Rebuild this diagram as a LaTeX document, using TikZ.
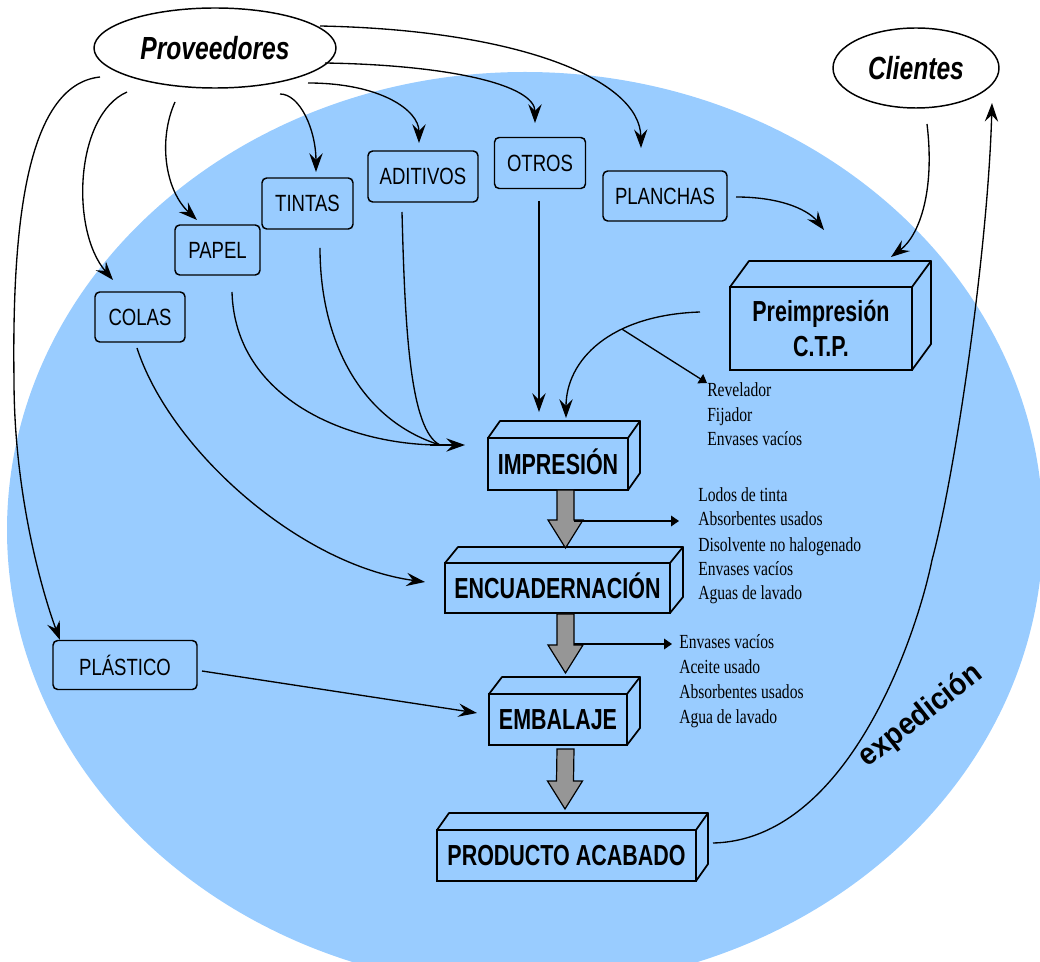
\documentclass[tikz,border=0pt]{standalone}
\usepackage{fontspec}
\setmainfont{Liberation Sans}
\newfontfamily\labfont[FakeStretch=0.79]{Liberation Sans}
\newfontfamily\cubefont[FakeStretch=0.74]{Liberation Sans}
\newfontfamily\ovfont[FakeStretch=0.77]{Liberation Sans}
\newfontfamily\wastefont[FakeStretch=0.78]{Liberation Serif}
\newfontfamily\expfont[FakeStretch=0.92]{Liberation Sans}
\usetikzlibrary{shapes.geometric,arrows.meta,calc}
\definecolor{bgblue}{HTML}{99CCFF}
\definecolor{arrgray}{HTML}{969696}
\tikzset{
 ov/.style={ellipse, draw, fill=white, line width=1.1pt, inner sep=0pt, outer sep=0pt, font=\ovfont\bfseries\itshape\fontsize{24}{28}\selectfont},
 rbox/.style={rectangle, rounded corners=3.5pt, draw, line width=1.1pt, inner sep=0pt, outer sep=0pt, font=\labfont\fontsize{17.6}{20}\selectfont},
 cube/.style={rectangle, draw, line width=1.3pt, inner sep=0pt, outer sep=0pt, align=center, font=\cubefont\bfseries\fontsize{21.75}{26.25}\selectfont},
 cubeone/.style={cube, text height=15.2pt, text depth=0pt},
 cubeline/.style={line width=1.3pt, line join=round},
 waste/.style={anchor=base west, inner sep=0pt, font=\wastefont\fontsize{15}{18}\selectfont},
 arr/.style={line width=1pt, -{Stealth[length=14pt,width=10pt,inset=5pt]}},
 plain/.style={line width=1pt},
 warr/.style={line width=1pt, -{Triangle[length=6pt,width=8pt]}},
 gblk/.style={fill=arrgray, draw=black, line width=0.9pt, line join=miter},
}
\newcommand\cubefaces[3]{%
 \draw[cubeline] (#1.north west) -- ++(#2,#3) -- ($(#1.north east)+(#2,#3)$) -- (#1.north east);
 \draw[cubeline] ($(#1.north east)+(#2,#3)$) -- ($(#1.south east)+(#2,#3)$) -- (#1.south east);}
\newcommand\blockarrow[2]{%
 \filldraw[gblk] ($(#1)+(-8.5,0)$) -- ($(#1)+(8.5,0)$) -- ($(#2)+(8.5,-28)$) -- ($(#2)+(17.5,-28)$) -- (#2) -- ($(#2)+(-17.5,-28)$) -- ($(#2)+(-8.5,-28)$) -- cycle;}
\begin{document}
\begin{tikzpicture}[x=0.75pt,y=-0.75pt]
\useasboundingbox (0,0) rectangle (1040,962);
\begin{scope}
\clip (0,0) rectangle (1040,962);
\fill[bgblue] (525,530) ellipse [x radius=388.5pt, y radius=343.5pt];
\end{scope}

% nodes
\node[ov, minimum width=181.5pt, minimum height=60pt] (PROV) at (215,48) {Proveedores};
\node[ov, minimum width=124.5pt, minimum height=60pt] (CLI) at (916,68) {Clientes};
\node[rbox, minimum width=68.25pt, minimum height=38.25pt] (TIN) at (307.5,203.5) {TINTAS};
\node[rbox, minimum width=82.5pt, minimum height=38.25pt] (ADI) at (423,176.5) {ADITIVOS};
\node[rbox, minimum width=63.75pt, minimum height=37.5pt] (PAP) at (217.5,250) {PAPEL};
\node[rbox, minimum width=67.5pt, minimum height=37.5pt] (COL) at (140,317) {COLAS};
\node[rbox, minimum width=68.25pt, minimum height=38.25pt] (OTR) at (540,163) {OTROS};
\node[rbox, minimum width=93pt, minimum height=37.5pt] (PLA) at (665,196) {PLANCHAS};
\node[rbox, minimum width=108pt, minimum height=36.75pt] (PLS) at (125,665) {PLÁSTICO};
\node[cube, minimum width=136.5pt, minimum height=62.25pt] (PRE) at (821,328.5) {Preimpresión\\C.T.P.};
\node[cubeone, minimum width=105pt, minimum height=39pt] (IMP) at (558,464) {IMPRESIÓN};
\node[cubeone, minimum width=168.75pt, minimum height=37.5pt] (ENC) at (557.5,588) {ENCUADERNACIÓN};
\node[cubeone, minimum width=103.5pt, minimum height=38.25pt] (EMB) at (558,719.5) {EMBALAJE};
\node[cubeone, minimum width=194.25pt, minimum height=38.25pt] (PRO) at (566.5,855.5) {PRODUCTO ACABADO};
\cubefaces{PRE}{19}{-26}
\cubefaces{IMP}{12}{-17}
\cubefaces{ENC}{13}{-16}
\cubefaces{EMB}{13}{-17}
\cubefaces{PRO}{12}{-17}

% waste lists
\node[waste] (RV) at (707,397) {Revelador};
\node[waste] (FJ) at (707,422) {Fijador};
\node[waste] (EV1) at (707,446) {Envases vacíos};
\node[waste] (LT) at (698,502) {Lodos de tinta};
\node[waste] (AB1) at (698,526) {Absorbentes usados};
\node[waste] (DN) at (698,552) {Disolvente no halogenado};
\node[waste] (EV2) at (698,576) {Envases vacíos};
\node[waste] (AL1) at (698,600) {Aguas de lavado};
\node[waste] (EV3) at (679,648) {Envases vacíos};
\node[waste] (AU) at (679,673) {Aceite usado};
\node[waste] (AB2) at (679,698) {Absorbentes usados};
\node[waste] (AL2) at (679,723) {Agua de lavado};

\node[rotate=38, inner sep=0pt, font=\expfont\bfseries\fontsize{23}{26}\selectfont] (EXP) at (921,716) {expedición};

% supplier connectors
\draw[arr] ([shift={(105,-22)}]PROV.center) .. controls (520,30) and (640,80) .. ([shift={(-24,-48)}]PLA.center);
\draw[arr] ([shift={(110,15)}]PROV.center) .. controls (450,65) and (535,85) .. ([shift={(-5,-40)}]OTR.center);
\draw[arr] ([shift={(93,35)}]PROV.center) .. controls (380,83) and (419,110) .. ([shift={(-4,-33.5)}]ADI.center);
\draw[arr] ([shift={(65,46)}]PROV.center) .. controls (300,94) and (316,130) .. ([shift={(8.5,-31.5)}]TIN.center);
\draw[arr] ([shift={(-40,54)}]PROV.center) .. controls (158,140) and (165,190) .. ([shift={(-20.5,-30)}]PAP.center);
\draw[arr] ([shift={(-88,44)}]PROV.center) .. controls (75,115) and (70,230) .. ([shift={(-27,-37)}]COL.center);
\draw[arr] ([shift={(-115,29)}]PROV.center) .. controls (25,85) and (12,230) .. (14,380) .. controls (14,500) and (45,600) .. ([shift={(-65,-25)}]PLS.center);

% merged inputs to impresion
\coordinate (MG) at ([shift={(-118,-19)}]IMP.center);
\draw[plain] ([shift={(14.5,42)}]PAP.center) .. controls (235,400) and (350,445) .. (MG);
\draw[plain] ([shift={(12.5,44.5)}]TIN.center) .. controls (320,340) and (360,420) .. (MG);
\draw[plain] ([shift={(-21,35.5)}]ADI.center) .. controls (405,330) and (410,430) .. (MG);
\draw[arr] ([shift={(-10,0)}]MG) -- ([shift={(-93,-19)}]IMP.center);
\draw[arr] ([shift={(-1,38)}]OTR.center) -- ([shift={(-19,-52)}]IMP.center);
\draw[arr] ([shift={(-121,-16.5)}]PRE.center) .. controls (610,315) and (566,360) .. ([shift={(8,-46)}]IMP.center) coordinate[pos=0.35] (WP);
\draw[warr] (WP) -- ([shift={(0,-14)}]RV.base west);

\draw[arr] ([shift={(-3,6)}]COL.south) .. controls (170,450) and (300,565) .. ([shift={(-20,-6)}]ENC.west);
\draw[arr] ([shift={(5,6)}]PLS.east) -- ([shift={(-12,-6.5)}]EMB.west);

\draw[arr] ([shift={(71,1)}]PLA.center) .. controls (785,197) and (810,212) .. ([shift={(3,-98.5)}]PRE.center);
\draw[arr] ([shift={(11,56)}]CLI.center) .. controls (935,190) and (920,235) .. ([shift={(70,-71.5)}]PRE.center);
\draw[arr] ([shift={(146.5,-12.5)}]PRO.center) .. controls (850,840) and (918,630) .. (932,560) .. controls (955,475) and (988,250) .. ([shift={(76,35)}]CLI.center);

% block arrows
\coordinate (G1a) at ([shift={(7.5,0)}]IMP.south);
\coordinate (G1b) at ([shift={(8,-15)}]ENC.north);
\coordinate (G2a) at ([shift={(8,1)}]ENC.south);
\coordinate (G2b) at ([shift={(7.5,-21)}]EMB.north);
\coordinate (G3a) at ([shift={(7.5,4)}]EMB.south);
\coordinate (G3b) at ([shift={(-1.5,-21)}]PRO.north);
\blockarrow{G1a}{G1b}
\blockarrow{G2a}{G2b}
\blockarrow{G3a}{G3b}
\draw[warr] ([shift={(16,57)}]IMP.center) -- ([shift={(-19,-5)}]AB1.base west);
\draw[warr] ([shift={(16.5,56)}]ENC.center) -- ([shift={(-7,-4)}]EV3.base west);
\end{tikzpicture}
\end{document}
